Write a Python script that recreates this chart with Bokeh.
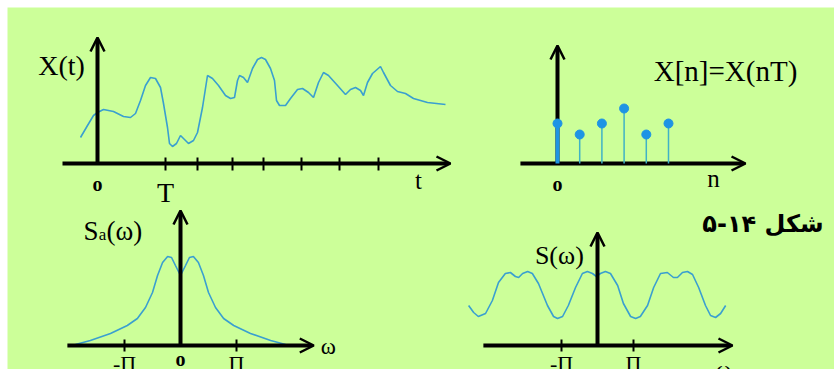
from bokeh.plotting import figure
from bokeh.models import Range1d, Arrow, OpenHead
from bokeh.core.properties import value
from bokeh.embed import file_html
from bokeh.resources import INLINE

# ---------------- data ----------------
# Panel A: continuous signal X(t)  (t in arbitrary units, amplitude arbitrary)
xt_t = [-1.7, -1.0, -0.4, 0.0, 0.6, 1.6, 2.6, 3.3, 3.8, 4.3, 4.8, 5.3, 5.8, 6.3, 6.6, 7.0,
        7.2, 7.5, 7.9, 8.3, 8.7, 9.1, 9.6, 10.0, 10.5, 11.0, 11.5, 12.1, 12.8, 13.3, 13.7,
        14.0, 14.2, 14.6, 15.0, 15.5, 16.0, 16.4, 16.8, 17.3, 17.7, 17.9, 18.2, 18.8, 19.3,
        20.0, 20.5, 21.1, 21.6, 22.1, 22.6, 23.1, 24.0, 24.8, 25.3, 25.8, 26.3, 26.6, 27.0,
        27.5, 28.3, 28.6, 29.3, 30.0, 30.8, 31.6, 33.0, 34.8]
xt_amp = [2.6, 3.8, 4.8, 5.1, 5.4, 5.2, 4.7, 4.6, 5.0, 6.3, 7.8, 8.6, 8.5, 7.6, 6.0, 3.6,
          2.0, 1.7, 2.0, 2.8, 2.4, 2.0, 2.3, 3.1, 5.6, 8.8, 8.5, 7.8, 6.8, 6.5, 6.6,
          8.3, 8.8, 8.6, 8.1, 9.5, 10.4, 10.6, 10.4, 9.5, 8.3, 6.3, 5.8, 5.8, 6.5,
          7.4, 7.5, 7.1, 6.6, 8.1, 9.1, 8.8, 7.8, 6.9, 7.4, 7.6, 7.3, 6.8, 8.1,
          9.0, 9.7, 9.1, 7.8, 7.2, 7.0, 6.5, 6.1, 5.9]
xt_ticks = [6.8, 10.0, 13.5, 16.6, 20.4, 24.2, 28.1]

# Panel B: samples X[n] = X(nT)
n_idx = [0, 1, 2, 3, 4, 5]
xn_vals = [4.0, 2.9, 4.0, 5.5, 2.9, 4.0]

# Panel C: Sa(w)  (w in units of pi)
sa_w = [-1.875, -1.61, -1.25, -0.95, -0.77, -0.625, -0.5, -0.41, -0.32, -0.23, -0.16, -0.09, 0.0,
        0.09, 0.16, 0.23, 0.32, 0.41, 0.5, 0.625, 0.77, 0.95, 1.25, 1.61, 1.875]
sa_amp = [0.1, 0.5, 1.2, 2.0, 2.7, 3.8, 5.3, 7.0, 8.3, 8.9, 8.8, 8.0, 7.0,
          8.0, 8.8, 8.9, 8.3, 7.0, 5.3, 3.8, 2.7, 2.0, 1.2, 0.5, 0.1]

# Panel D: S(w)  (w in units of pi)
s_w = [-3.58, -3.44, -3.31, -3.11, -2.92, -2.75, -2.56, -2.42, -2.28, -2.19, -2.08, -1.94, -1.81,
       -1.64, -1.39, -1.22, -1.11, -0.97, -0.81, -0.61, -0.42, -0.28, -0.14, -0.03, 0.08, 0.22,
       0.36, 0.56, 0.72, 0.92, 1.06, 1.19, 1.39, 1.56, 1.75, 1.94, 2.11, 2.22, 2.36, 2.50, 2.64,
       2.81, 3.00, 3.14, 3.28, 3.42, 3.56]
s_amp = [4.0, 3.3, 2.9, 3.2, 4.5, 6.3, 7.2, 7.3, 6.9, 6.8, 7.2, 7.4, 7.2,
         6.2, 4.0, 2.9, 2.7, 2.9, 4.0, 5.8, 7.2, 7.4, 7.2, 6.9, 7.2, 7.4,
         7.2, 6.0, 4.2, 2.9, 2.7, 2.9, 4.0, 5.8, 7.2, 7.3, 6.8, 6.8, 7.3, 7.4, 7.1,
         5.8, 4.0, 3.0, 2.8, 3.2, 4.0]

pi_ticks = [-1, 1]
pi_labels = ["-Π", "Π"]
title_text = "شکل ۱۴-۵"

# ---------------- styles ----------------
BG = "#ccff99"
CURVE = "#3a9fd0"
DOT = "#1e94e4"
STEM = "#3fb2c6"
SERIF = value("Liberation Serif")

W, H = 834, 369
L, T = 7, 7          # frame top-left (pixels) inside the figure
R, B = W, H

p = figure(width=W, height=H, x_range=Range1d(L, R), y_range=Range1d(B, T),
           output_backend="svg", toolbar_location=None, x_axis_type=None, y_axis_type=None,
           min_border=0, min_border_left=L, min_border_top=T, min_border_right=0,
           min_border_bottom=0, background_fill_color=BG, border_fill_color="white",
           outline_line_color=None)


def panel(name, ox, oy, sx, sy):
    xr = dict(p.extra_x_ranges)
    yr = dict(p.extra_y_ranges)
    xr[name] = Range1d((L - ox) / sx, (R - ox) / sx)
    yr[name] = Range1d((oy - B) / sy, (oy - T) / sy)
    p.extra_x_ranges = xr
    p.extra_y_ranges = yr
    return dict(x_range_name=name, y_range_name=name)


def axes(kw, x0, x1, ytop, level="annotation"):
    p.add_layout(Arrow(end=OpenHead(size=14, line_width=2.5, line_color="black"),
                       x_start=x0, y_start=0, x_end=x1, y_end=0,
                       line_width=4, line_color="black", level=level, **kw))
    p.add_layout(Arrow(end=OpenHead(size=14, line_width=2.5, line_color="black"),
                       x_start=0, y_start=0, x_end=0, y_end=ytop,
                       line_width=4, line_color="black", level=level, **kw))


def txt(kw, x, y, s, size, align="center", baseline="middle", font=SERIF, style="normal"):
    p.text(x=[x], y=[y], text=[s], text_font=font, text_font_size=size,
           text_align=align, text_baseline=baseline, text_color="black",
           text_font_style=style, **kw)


# ---- Panel A ----
ka = panel("A", 97, 163, 10, 10)
p.line(xt_t, xt_amp, line_color=CURVE, line_width=1.6, **ka)
p.segment(x0=xt_ticks, y0=[-0.7] * len(xt_ticks), x1=xt_ticks, y1=[0.6] * len(xt_ticks),
          line_color="black", line_width=2, **ka)
axes(ka, -3.5, 35.3, 12.6)
txt(ka, -3.6, 9.8, "X(t)", "28px")
txt(ka, 0, -2.0, "o", "20px", style="bold")
txt(ka, xt_ticks[0], -1.3, "T", "28px", baseline="top")
txt(ka, 32.1, -1.7, "t", "25px")

# ---- Panel B ----
kb = panel("B", 557, 163, 22.2, 10)
axes(kb, -1.67, 8.47, 11.8, level="underlay")
stem_w = [4 if n == 0 else 1.5 for n in n_idx]
stem_c = [DOT if n == 0 else STEM for n in n_idx]
p.segment(x0=n_idx, y0=[0] * len(n_idx), x1=n_idx, y1=xn_vals,
          line_color=stem_c, line_width=stem_w, **kb)
p.scatter(n_idx, xn_vals, size=9, fill_color=DOT, line_color=DOT, **kb)
txt(kb, 7.57, 9.3, "X[n]=X(nT)", "29px")
txt(kb, 0, -2.0, "o", "20px", style="bold")
txt(kb, 7.03, -1.5, "n", "25px")

# ---- Panel C ----
kc = panel("C", 180, 345, 56, 10)
p.line(sa_w, sa_amp, line_color=CURVE, line_width=1.6, **kc)
p.segment(x0=pi_ticks, y0=[-0.6, -0.6], x1=pi_ticks, y1=[0.6, 0.6],
          line_color="black", line_width=2, **kc)
axes(kc, -2.02, 2.38, 13.5)
txt(kc, -1.73, 11.5, "S", "27px", align="left")
txt(kc, -1.46, 11.1, "a", "17px", align="left")
txt(kc, -1.32, 11.5, "(ω)", "27px", align="left")
txt(kc, 2.64, -0.1, "ω", "23px")
p.text(x=pi_ticks, y=[-0.5, -0.5], text=pi_labels, text_font=SERIF, text_font_size="22px",
       text_align="center", text_baseline="top", text_color="black", **kc)
txt(kc, 0, -1.3, "o", "20px", style="bold")

# ---- Panel D ----
kd = panel("D", 597, 345, 36, 10)
p.line(s_w, s_amp, line_color=CURVE, line_width=1.6, **kd)
p.segment(x0=pi_ticks, y0=[-0.6, -0.6], x1=pi_ticks, y1=[0.6, 0.6],
          line_color="black", line_width=2, **kd)
axes(kd, -3.17, 3.75, 11.3)
txt(kd, -1.06, 9.0, "S(ω)", "26px")
p.text(x=pi_ticks, y=[-0.5, -0.5], text=pi_labels, text_font=SERIF, text_font_size="22px",
       text_align="center", text_baseline="top", text_color="black", **kd)
txt(kd, 3.5, -2.4, "ω", "23px")

# ---- Title ----
p.text(x=[823], y=[223], text=[title_text], text_font=value("DejaVu Sans"),
       text_font_size="24px", text_font_style="bold", text_align="right",
       text_baseline="middle", text_color="black")

open("out.html", "w").write(file_html(p, INLINE))
